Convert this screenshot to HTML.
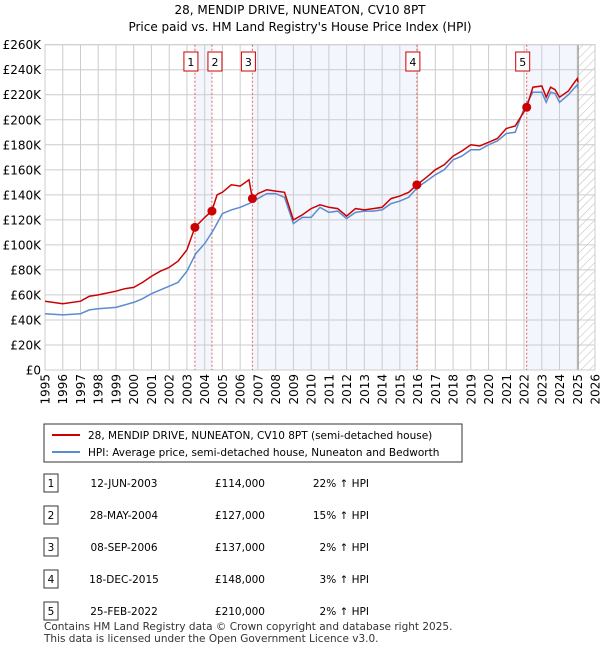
<!DOCTYPE html>
<html><head><meta charset="utf-8"><style>
body{margin:0;background:#fff;font-family:"Liberation Sans","DejaVu Sans",sans-serif;}
svg text{font-family:"DejaVu Sans","Liberation Sans",sans-serif;}
</style></head><body>
<svg id="c" width="600" height="650" xmlns="http://www.w3.org/2000/svg">
<text x="300" y="14" text-anchor="middle" font-size="12">28, MENDIP DRIVE, NUNEATON, CV10 8PT</text>
<text x="300" y="31" text-anchor="middle" font-size="12">Price paid vs. HM Land Registry's House Price Index (HPI)</text>
<defs><pattern id="h" width="6" height="6" patternUnits="userSpaceOnUse" patternTransform="rotate(45)"><line x1="0" y1="0" x2="0" y2="6" stroke="#bbb" stroke-width="1"/></pattern></defs>
<g id="plot"></g>
<g>
<rect x="44" y="424" width="418" height="38" fill="#fff" stroke="#333"/>
<line x1="52" y1="435" x2="80" y2="435" stroke="#cc0000" stroke-width="2"/>
<text x="88" y="439" font-size="10.5">28, MENDIP DRIVE, NUNEATON, CV10 8PT (semi-detached house)</text>
<line x1="52" y1="452" x2="80" y2="452" stroke="#5b8bd0" stroke-width="2"/>
<text x="88" y="456" font-size="10.5">HPI: Average price, semi-detached house, Nuneaton and Bedworth</text>
</g>
<g id="tbl" font-size="10.5"></g>
<text x="44" y="630" font-size="10.5" fill="#333">Contains HM Land Registry data © Crown copyright and database right 2025.</text>
<text x="44" y="642" font-size="10.5" fill="#333">This data is licensed under the Open Government Licence v3.0.</text>
</svg>
<script>
const hpiYears=[1995,1996,1997,1997.5,1998,1999,1999.5,2000,2000.5,2001,2001.5,2002,2002.5,2003,2003.5,2004,2004.5,2005,2005.5,2006,2006.5,2007,2007.5,2008,2008.5,2009,2009.5,2010,2010.5,2011,2011.5,2012,2012.5,2013,2013.5,2014,2014.5,2015,2015.5,2016,2016.5,2017,2017.5,2018,2018.5,2019,2019.5,2020,2020.5,2021,2021.5,2022,2022.5,2023,2023.25,2023.5,2023.75,2024,2024.5,2024.75,2025,2025.05];
const hpiValues=[45,44,45,48,49,50,52,54,57,61,64,67,70,79,93,101,112,125,128,130,133,137,141,141,138,117,122,122,130,126,127,121,126,127,127,128,133,135,138,146,151,156,160,168,171,176,176,180,183,189,190,209,222,222,214,222,221,214,220,224,228,225];
const priceYears=[1995,1996,1997,1997.5,1998,1999,1999.5,2000,2000.5,2001,2001.5,2002,2002.5,2003,2003.45,2004,2004.4,2004.7,2005,2005.5,2006,2006.5,2006.69,2007,2007.5,2008,2008.5,2009,2009.5,2010,2010.5,2011,2011.5,2012,2012.5,2013,2013.5,2014,2014.5,2015,2015.5,2015.96,2016.5,2017,2017.5,2018,2018.5,2019,2019.5,2020,2020.5,2021,2021.5,2022.15,2022.5,2023,2023.25,2023.5,2023.75,2024,2024.5,2024.75,2025,2025.05];
const priceValues=[55,53,55,59,60,63,65,66,70,75,79,82,87,96,114,122,127,140,142,148,147,152,137,141,144,143,142,120,124,129,132,130,129,123,129,128,129,130,137,139,142,148,154,160,164,171,175,180,179,182,185,193,195,210,226,227,218,226,224,218,223,228,233,230];
const saleLabels=["1","2","3","4","5"];
const saleYears=[2003.45,2004.41,2006.69,2015.96,2022.15];
const salePrices=[114,127,137,148,210];
const saleDates=["12-JUN-2003","28-MAY-2004","08-SEP-2006","18-DEC-2015","25-FEB-2022"];
const salePriceText=["£114,000","£127,000","£137,000","£148,000","£210,000"];
const salePct=["22% \u2191 HPI","15% \u2191 HPI","2% \u2191 HPI","3% \u2191 HPI","2% \u2191 HPI"];
const yTicks=[0,20,40,60,80,100,120,140,160,180,200,220,240,260];
const xTicks=[];for(let y=1995;y<=2026;y++)xTicks.push(y);
const X0=45,X1=595,Y0=370,Y1=44.7,dataEnd=2025.05;
const xs=y=>X0+(y-1995)*(X1-X0)/31;
const ys=v=>Y0-(v)*(Y0-Y1)/260;
const NS="http://www.w3.org/2000/svg";
const plot=document.getElementById('plot');
function mk(tag,attrs,parent){const e=document.createElementNS(NS,tag);for(const k in attrs)e.setAttribute(k,attrs[k]);(parent||plot).appendChild(e);return e;}
let e;
e=mk('rect',{x:X0,y:Y1,width:X1-X0,height:Y0-Y1,fill:'#fff'});


const shades=[[saleYears[0],saleYears[1]],[saleYears[2],saleYears[3]],[saleYears[4],dataEnd]];
shades.forEach(s=>{e=mk('rect',{x:xs(s[0]),y:Y1,width:xs(s[1])-xs(s[0]),height:Y0-Y1,fill:'#f3f6fd'});

});
e=mk('rect',{x:xs(dataEnd),y:Y1,width:X1-xs(dataEnd),height:Y0-Y1,fill:'url(#h)'});


yTicks.forEach(v=>{e=mk('line',{x1:X0,x2:X1,y1:ys(v),y2:ys(v),stroke:'#ccc'});


e=mk('text',{x:X0-4,y:ys(v)+4.5,'text-anchor':'end','font-size':'12'});e.textContent=v==0?'£0':'£'+v+'K';

});
xTicks.forEach(y=>{e=mk('line',{x1:xs(y),x2:xs(y),y1:Y1,y2:Y0,stroke:'#ccc'});


e=mk('text',{x:0,y:0,'font-size':'12','text-anchor':'end',transform:`translate(${xs(y)+4.5},${Y0+4}) rotate(-90)`});e.textContent=y;

});
e=mk('line',{x1:xs(dataEnd),x2:xs(dataEnd),y1:Y1,y2:Y0,stroke:'#888'});


e=mk('rect',{x:X0,y:Y1,width:X1-X0,height:Y0-Y1,fill:'none',stroke:'#ccc'});


saleYears.forEach((y,i)=>{e=mk('line',{x1:xs(y),x2:xs(y),y1:Y1,y2:Y0,stroke:'#e06060','stroke-dasharray':'2,2'});

});
const pts=(a,b)=>a.map((y,i)=>xs(y).toFixed(1)+','+ys(b[i]).toFixed(1)).join(' ');
e=mk('polyline',{points:pts(hpiYears,hpiValues),fill:'none',stroke:'#5b8bd0','stroke-width':1.5});


e=mk('polyline',{points:pts(priceYears,priceValues),fill:'none',stroke:'#cc0000','stroke-width':1.5});


saleYears.forEach((y,i)=>{e=mk('circle',{cx:xs(y),cy:ys(salePrices[i]),r:4.5,fill:'#cc0000'});


const lx=i==0?xs(y)-4:(i==1?xs(y)+3:xs(y)-4);
e=mk('rect',{x:lx-7,y:52,width:14,height:19,fill:'#fff',stroke:'#cc0000'});


e=mk('text',{x:lx,y:66,'text-anchor':'middle','font-size':'11'});e.textContent=saleLabels[i];

});
const tbl=document.getElementById('tbl');
saleLabels.forEach((l,i)=>{const cy=482+i*32;
e=mk('rect',{x:44,y:cy-8,width:14,height:18,fill:'#fff',stroke:'#333'},tbl);


e=mk('text',{x:51,y:cy+5,'text-anchor':'middle'},tbl);e.textContent=l;


e=mk('text',{x:124,y:cy+5,'text-anchor':'middle'},tbl);e.textContent=saleDates[i];


e=mk('text',{x:265,y:cy+5,'text-anchor':'end'},tbl);e.textContent=salePriceText[i];


e=mk('text',{x:369,y:cy+5,'text-anchor':'end'},tbl);e.textContent=salePct[i];

});
</script>
</body></html>
